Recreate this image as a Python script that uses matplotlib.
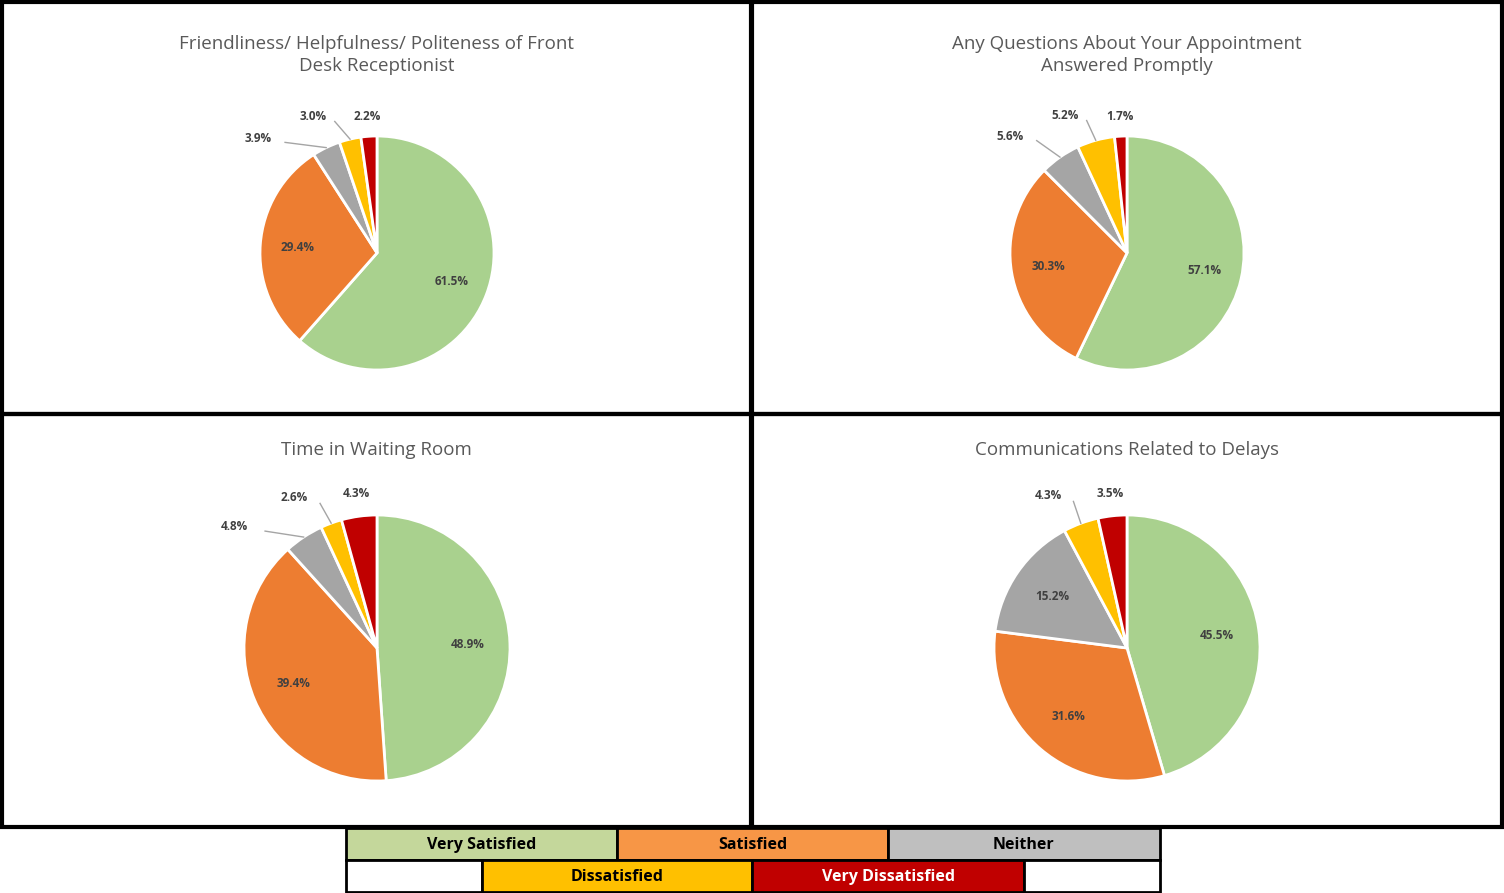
import matplotlib.pyplot as plt
import numpy as np

categories = ['Very Satisfied', 'Satisfied', 'Neither', 'Dissatisfied', 'Very Dissatisfied']
colors = ['#A9D18E', '#ED7D31', '#A5A5A5', '#FFC000', '#C00000']

titles = ['Friendliness/ Helpfulness/ Politeness of Front\nDesk Receptionist',
          'Any Questions About Your Appointment\nAnswered Promptly',
          'Time in Waiting Room',
          'Communications Related to Delays']
friendliness = [61.5, 29.4, 3.9, 3.0, 2.2]
questions = [57.1, 30.3, 5.6, 5.2, 1.7]
waiting = [48.9, 39.4, 4.8, 2.6, 4.3]
delays = [45.5, 31.6, 15.2, 4.3, 3.5]
all_values = [friendliness, questions, waiting, delays]

W, H = 1504, 893
fig = plt.figure(figsize=(W / 100, H / 100), dpi=100)
plt.rcParams['font.family'] = ['Open Sans', 'DejaVu Sans']

def fx(px):
    return px / W

def fy(py):
    return 1 - py / H

# panel boxes (left, top, right, bottom) in px
panels = [(2, 2, 751, 414), (752, 2, 1502, 414), (2, 414, 751, 827), (752, 414, 1502, 827)]
centers = [(377, 253, 117), (1127, 253, 117), (377, 648, 133), (1127, 648, 133)]
title_y = [55, 55, 450, 450]

bg = fig.add_axes([0, 0, 1, 1])
bg.set_xlim(0, W)
bg.set_ylim(H, 0)
bg.axis('off')
for (l, t, r, b) in panels:
    bg.add_patch(plt.Rectangle((l, t), r - l, b - t, fill=False, lw=3, ec='black'))

for i, vals in enumerate(all_values):
    cx, cy, R = centers[i]
    L = 1.7
    size = 2 * R * L
    ax = fig.add_axes([fx(cx - size / 2), fy(cy + size / 2), size / W, size / H])
    wedges, _ = ax.pie(vals, colors=colors, startangle=90, counterclock=False,
                       wedgeprops=dict(edgecolor='white', linewidth=2))
    ax.set_xlim(-L, L)
    ax.set_ylim(-L, L)
    ax.set_aspect('equal')
    outside = []
    for w, v in zip(wedges, vals):
        mid = np.deg2rad((w.theta1 + w.theta2) / 2)
        if v >= 10:
            ax.text(0.68 * np.cos(mid), 0.68 * np.sin(mid), f'{v:.1f}%', ha='center', va='center',
                    fontsize=8.5, fontweight='bold', color='#404040')
        else:
            outside.append((np.rad2deg(mid), v))
    # spread small labels counterclockwise from the top
    outside.sort(key=lambda a: a[0])
    prev = None
    for k, (ang, v) in enumerate(outside):
        lab = ang if prev is None else max(ang, prev + 21)
        prev = lab
        rr = 1.17 + 0.12 * k
        a = np.deg2rad(lab)
        tx, ty = rr * np.cos(a), rr * np.sin(a)
        ax.text(tx, ty, f'{v:.1f}%', ha='center', va='center',
                fontsize=8.5, fontweight='bold', color='#404040')
        if lab - ang > 6:
            m = np.deg2rad(ang)
            ax.plot([1.0 * np.cos(m), (rr - 0.15) * np.cos(a) + 0.12],
                    [1.0 * np.sin(m), (rr - 0.05) * np.sin(a)], color='#A5A5A5', lw=1)
    l, t, r, b = panels[i]
    fig.text(fx((l + r) / 2), fy(title_y[i]), titles[i], ha='center', va='center',
             fontsize=13.5, color='#595959', linespacing=1.25)

# legend table
row1 = [(346, 617, 'Very Satisfied', '#C4D79B', 'black'),
        (617, 888, 'Satisfied', '#F79646', 'black'),
        (888, 1160, 'Neither', '#BFBFBF', 'black')]
row2 = [(346, 482, '', 'white', 'black'),
        (482, 752, 'Dissatisfied', '#FFC000', 'black'),
        (752, 1024, 'Very Dissatisfied', '#C00000', 'white'),
        (1024, 1160, '', 'white', 'black')]
for (t, b), row in [((828, 860), row1), ((860, 892), row2)]:
    for x0, x1, txt, fc, tc in row:
        bg.add_patch(plt.Rectangle((x0, t), x1 - x0, b - t, fc=fc, ec='black', lw=2))
        bg.text((x0 + x1) / 2, (t + b) / 2 + 1, txt, ha='center', va='center',
                fontsize=11.5, fontweight='bold', color=tc)

fig.savefig('out.png', dpi=100, facecolor='white')
